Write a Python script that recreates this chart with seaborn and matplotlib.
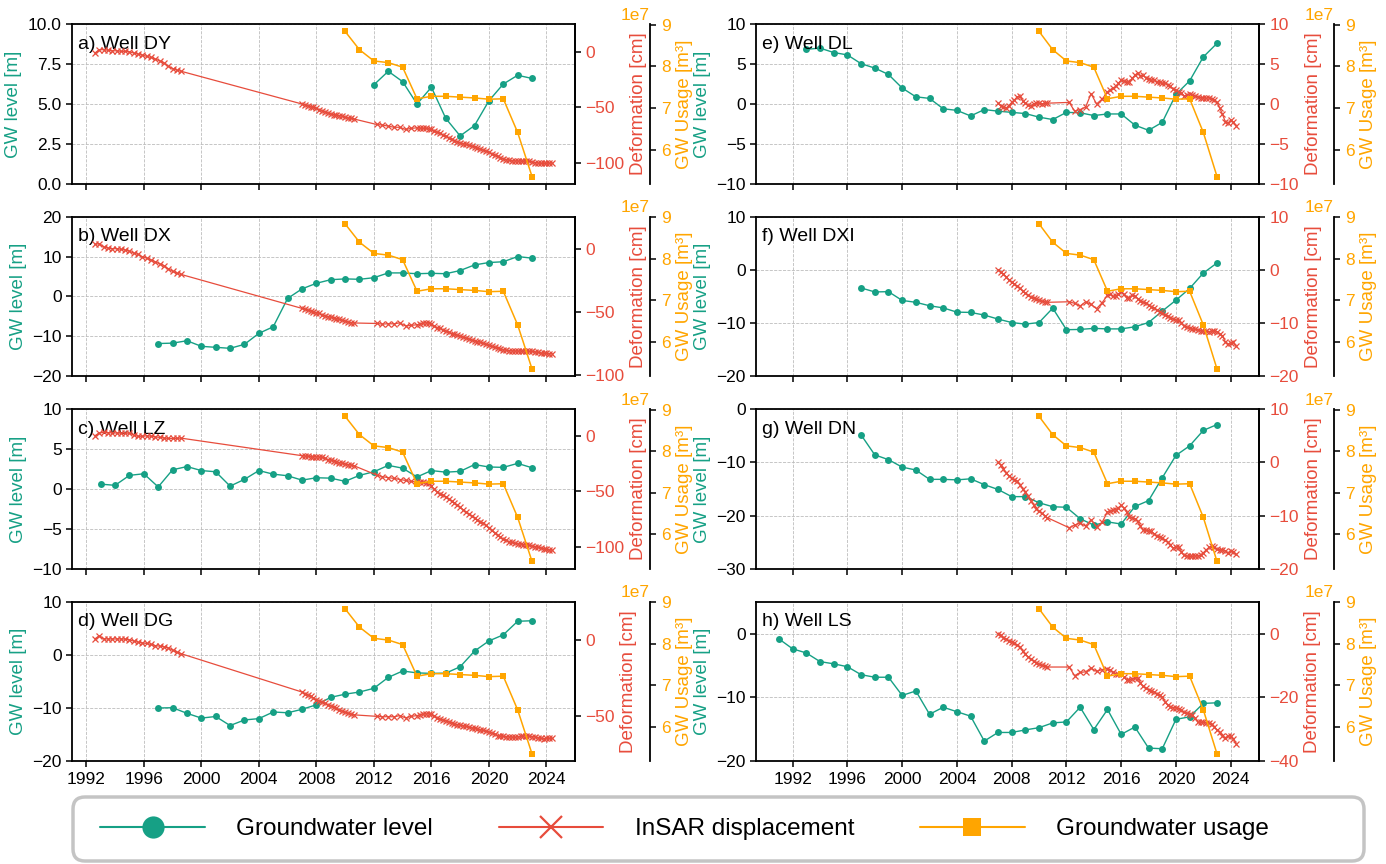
import numpy as np
import matplotlib
matplotlib.use("Agg")
import matplotlib.pyplot as plt
from matplotlib.lines import Line2D
from matplotlib.patches import FancyBboxPatch
import seaborn as sns

sns.set_theme(style="ticks")
plt.rcParams["font.family"] = ["Liberation Sans", "DejaVu Sans"]
plt.rcParams.update({
    "axes.linewidth": 1.3,
    "axes.edgecolor": "black",
    "axes.labelcolor": "black",
    "text.color": "black",
    "xtick.color": "black",
    "ytick.color": "black",
    "xtick.major.width": 1.1,
    "ytick.major.width": 1.1,
    "xtick.major.size": 4,
    "ytick.major.size": 4,
    "xtick.labelsize": 12.5,
    "ytick.labelsize": 12.5,
    "axes.labelsize": 13.5,
})

TEAL = "#16a085"
RED = "#e74c3c"
ORANGE = "#ffa500"

# ---------------------------------------------------------------- time axes
x_ticks = [1992, 1996, 2000, 2004, 2008, 2012, 2016, 2020, 2024]

# InSAR acquisition epochs (decimal years) of the four stacks
ers_t = [1992.6, 1992.9, 1993.2, 1993.5, 1993.8, 1994.1, 1994.4, 1994.7,
         1995.0, 1995.3, 1995.6, 1995.9, 1996.2, 1996.5, 1996.8, 1997.1,
         1997.4, 1997.7, 1998.0, 1998.3, 1998.6]
env_t = [2007.0, 2007.2, 2007.4, 2007.6, 2007.8, 2008.0, 2008.2, 2008.4,
         2008.6, 2008.8, 2009.0, 2009.2, 2009.4, 2009.6, 2009.8, 2010.0,
         2010.2, 2010.4, 2010.6]
alos_t = [2012.2, 2012.6, 2013.0, 2013.4, 2013.8, 2014.2, 2014.6]
s1_t = [2015.0, 2015.2, 2015.4, 2015.6, 2015.8, 2016.0, 2016.2, 2016.4,
        2016.6, 2016.8, 2017.0, 2017.2, 2017.4, 2017.6, 2017.8, 2018.0,
        2018.2, 2018.4, 2018.6, 2018.8, 2019.0, 2019.2, 2019.4, 2019.6,
        2019.8, 2020.0, 2020.2, 2020.4, 2020.6, 2020.8, 2021.0, 2021.2,
        2021.4, 2021.6, 2021.8, 2022.0, 2022.2, 2022.4, 2022.6, 2022.8,
        2023.0, 2023.2, 2023.4, 2023.6, 2023.8, 2024.0, 2024.2, 2024.4]

# ---------------------------------------------------------- groundwater use
usage_years = [2010, 2011, 2012, 2013, 2014, 2015, 2016, 2017, 2018, 2019,
               2020, 2021, 2022, 2023]
usage_m3 = [8.84e7, 8.40e7, 8.13e7, 8.09e7, 7.98e7, 7.22e7, 7.28e7, 7.28e7,
            7.26e7, 7.24e7, 7.21e7, 7.22e7, 6.41e7, 5.35e7]

# ------------------------------------------------------------- Well DY (a)
gw_years_dy = list(range(2012, 2024))
gw_dy = [6.2, 7.05, 6.4, 5.0, 6.05, 4.1, 3.0, 3.65, 5.2, 6.25, 6.8, 6.6]
ers_dy = [-1, 2, 2, 1.5, 1, 1, 0.5, 0.5, 0, -1, -2, -3, -4, -5, -6.5, -8,
          -10, -13, -15, -16.5, -17.5]
env_dy = [-47, -47.5, -48.5, -49.5, -50, -51, -52, -53, -54, -55, -56,
          -56.5, -57, -57.5, -58, -59, -59.5, -60, -60.5]
alos_dy = [-65.5, -66, -67, -68, -68, -70, -69]
s1_dy = [-68.5, -68.8, -69, -69, -69.5, -70, -71, -72.5, -73.5, -75,
         -76, -77.5, -79, -80, -81, -82, -82.7, -83.5, -84.2, -85,
         -85.8, -86.7, -87.5, -88.5, -89.5, -90.6, -91.8, -93, -94.3, -95.5,
         -96.4, -97.2, -97.8, -98.2, -98.4, -98.5, -98.5, -98.6, -98.7, -98.8,
         -99.2, -99.8, -100.2, -100.5, -100.6, -100.5, -100.3, -100.3]

# ------------------------------------------------------------- Well DX (b)
gw_years_dx = list(range(1997, 2024))
gw_dx = [-11.8, -11.7, -11.1, -12.5, -12.75, -13.0, -12.0, -9.25, -7.6, -0.5,
         1.9, 3.3, 4.2, 4.4, 4.3, 4.7, 5.9, 5.9, 5.7, 5.8, 5.7, 6.5, 7.9, 8.5,
         8.7, 10.0, 9.6]
ers_dx = [4, 4.5, 2, 1, 0.5, 0.5, 0, -0.5, -1.5, -3, -4, -6, -7, -8.5, -10,
          -11.5, -13, -15.5, -17.5, -19, -20]
env_dx = [-47, -47.5, -48.5, -49, -49.7, -50.5, -51, -52, -52.8, -53.5, -54,
          -54.7, -55.2, -55.8, -56.5, -57, -57.7, -58.3, -58.6]
alos_dx = [-59, -59.5, -59.2, -59.3, -58.5, -61, -60.5]
s1_dx = [-60, -59.5, -58.8, -58.4, -58.8, -59.5, -61, -62.3, -63, -64,
         -65, -66, -67, -67.6, -68.3, -69, -69.8, -70.5, -71.3, -72.2,
         -72.8, -73.4, -74, -74.8, -75.6, -76.5, -77.3, -78, -78.7, -79.3,
         -79.8, -80.3, -80.6, -80.8, -81, -81, -81, -80.9, -81, -81.2,
         -81.3, -81.5, -82, -82.5, -82.7, -82.8, -83, -83]

# ------------------------------------------------------------- Well LZ (c)
gw_years_lz = list(range(1993, 2024))
gw_lz = [0.6, 0.45, 1.7, 1.9, 0.25, 2.4, 2.8, 2.3, 2.15, 0.35, 1.2, 2.3, 1.85,
         1.65, 1.1, 1.4, 1.35, 0.95, 1.7, 2.15, 2.95, 2.6, 1.5, 2.3, 2.1, 2.2,
         3.05, 2.75, 2.7, 3.2, 2.65]
ers_lz = [0, 2.5, 3, 2.8, 2.5, 2.5, 2.3, 2.3, 2.3, 0.5, -0.5, -0.5, 0, -0.5,
          -1, -1.5, -2, -2.5, -2.5, -2.3, -2.2]
env_lz = [-18, -18.3, -18.6, -18.8, -19, -19, -19.2, -19.5, -20.5, -21.5, -22,
          -22.8, -23.5, -24.2, -24.8, -25.5, -26, -26.5, -27]
alos_lz = [-35.5, -37, -37.8, -38.5, -39.5, -40.3, -41.3]
s1_lz = [-41.5, -41.8, -42, -42.3, -43, -45.5, -48.5, -50.5, -52.3, -53.8,
         -55, -57, -58.8, -60.6, -62.6, -64.7, -66.7, -68.7, -70.7, -72.5,
         -74.2, -75.8, -77.4, -79, -81, -83.5, -85.5, -87.8, -90, -91.8,
         -93.2, -94.5, -95.5, -96.3, -97, -97.4, -97.8, -98.2, -98.6, -99,
         -99.5, -100, -100.7, -101.3, -102, -102.6, -103, -103.3]

# ------------------------------------------------------------- Well DG (d)
gw_years_dg = list(range(1997, 2024))
gw_dg = [-10.0, -9.95, -11.0, -11.9, -11.6, -13.3, -12.25, -12.0, -10.75,
         -10.9, -10.25, -9.4, -8.0, -7.4, -7.0, -6.3, -4.25, -3.05, -3.4,
         -3.5, -3.45, -2.25, 0.7, 2.6, 3.75, 6.3, 6.4]
ers_dg = [0.5, 2.5, 0.5, 0.4, 0.4, 0.4, 0.4, 0.3, -0.2, -1, -1.7, -2.2, -2.5,
          -3.2, -4, -4.3, -4.7, -5.5, -7, -8.3, -9.3]
env_dg = [-34.5, -35.5, -36.5, -37.3, -38.3, -39.5, -40.3, -41, -42, -42.8,
          -43.5, -44.5, -45.3, -46.2, -47, -47.8, -48.5, -49, -49.5]
alos_dg = [-50.5, -50.8, -50.7, -50.8, -50, -51.5, -50.5]
s1_dg = [-50, -49.5, -49, -48.9, -48.8, -49.2, -50, -51.5, -52.4, -52.8,
         -53.3, -54, -54.8, -55.5, -55.9, -56.3, -56.6, -57.1, -57.6, -58,
         -58.4, -58.8, -59.3, -59.8, -60.3, -60.8, -61.3, -62.3, -63.2, -63.5,
         -63.7, -63.9, -64, -64.2, -64.3, -64, -63.7, -63.4, -63.4, -63.6,
         -63.8, -64, -64.5, -65, -65.2, -65, -65, -65]

# ------------------------------------------------------------- Well DL (e)
gw_years_dl = list(range(1993, 2024))
gw_dl = [6.85, 7.0, 6.45, 6.15, 5.05, 4.5, 3.7, 2.0, 0.9, 0.7, -0.6, -0.8,
         -1.5, -0.7, -0.9, -1.05, -1.2, -1.65, -1.95, -1.05, -1.1, -1.45,
         -1.25, -1.25, -2.65, -3.3, -2.3, 1.2, 2.9, 5.9, 7.6]
env_dl = [0.1, -0.2, -0.4, -0.5, -0.2, 0.2, 0.5, 0.9, 1.0, 0.4, 0.1, -0.1,
          -0.2, 0, 0.1, 0.1, 0, 0.1, 0.1]
alos_dl = [0.2, -0.9, -0.7, -0.4, 1.3, 0.0, 0.6]
s1_dl = [1.5, 1.8, 2.0, 2.2, 2.6, 3.0, 2.9, 2.7, 2.8, 3.2,
         3.6, 3.9, 3.5, 3.6, 3.3, 3.1, 3.0, 3.0, 2.8, 2.7,
         2.6, 2.6, 2.4, 2.2, 1.9, 1.7, 1.5, 1.4, 1.0, 1.1,
         1.3, 1.1, 1.0, 0.9, 0.8, 0.8, 0.7, 0.8, 0.6, 0.5,
         0.2, -0.5, -1.3, -2.2, -2.4, -2.0, -2.3, -2.7]

# ------------------------------------------------------------ Well DXI (f)
gw_years_dxi = list(range(1997, 2024))
gw_dxi = [-3.4, -4.15, -4.1, -5.75, -6.1, -6.75, -7.15, -7.95, -8.0, -8.5,
          -9.25, -9.9, -10.2, -9.9, -7.2, -11.25, -11.2, -11.0, -11.1, -11.1,
          -10.7, -9.9, -7.75, -5.7, -3.5, -0.6, 1.3]
env_dxi = [0, -0.4, -0.8, -1.3, -1.9, -2.3, -2.7, -3.1, -3.5, -4.0, -4.4,
           -4.8, -5.1, -5.3, -5.5, -5.7, -5.9, -6.0, -6.1]
alos_dxi = [-6.0, -6.3, -6.8, -6.0, -6.5, -7.3, -6.2]
s1_dxi = [-4.8, -4.6, -5.0, -4.9, -4.5, -4.1, -4.6, -5.3, -5.2, -4.8,
          -4.9, -5.4, -5.8, -6.1, -6.3, -6.6, -7.0, -7.2, -7.5, -7.9,
          -8.1, -8.4, -8.7, -9.0, -9.2, -9.4, -9.5, -10.0, -10.5, -10.8,
          -11.0, -11.1, -11.2, -11.3, -11.4, -11.5, -11.5, -11.6, -11.5, -11.4,
          -11.6, -12.0, -12.4, -13.5, -14.0, -13.7, -13.6, -14.4]

# ------------------------------------------------------------- Well DN (g)
gw_years_dn = list(range(1997, 2024))
gw_dn = [-4.85, -8.6, -9.5, -10.9, -11.45, -13.2, -13.2, -13.3, -13.1, -14.2,
         -15.1, -16.45, -16.45, -17.6, -18.35, -18.45, -20.6, -21.8, -21.2,
         -21.6, -18.3, -17.2, -12.9, -8.7, -6.9, -4.0, -2.9]
env_dn = [0.0, -0.5, -1.2, -2.0, -2.5, -3.0, -3.3, -3.5, -4.2, -5.0, -5.6,
          -6.3, -7.2, -8.0, -8.7, -9.2, -9.6, -10.0, -10.4]
alos_dn = [-12.3, -11.8, -11.4, -12.0, -10.8, -12.1, -11.3]
s1_dn = [-9.3, -9.2, -9.0, -8.9, -8.5, -8.1, -8.6, -9.4, -10.2, -10.4,
         -10.6, -11.1, -11.9, -12.7, -12.8, -12.9, -13.0, -13.4, -13.8, -14.0,
         -14.3, -14.6, -15.0, -15.6, -16.1, -15.9, -15.9, -16.8, -17.5, -17.6,
         -17.7, -17.7, -17.6, -17.6, -17.5, -17.0, -16.5, -16.0, -15.8, -16.0,
         -16.3, -16.5, -16.4, -16.6, -17.0, -16.6, -16.8, -17.3]

# ------------------------------------------------------------- Well LS (h)
gw_years_ls = list(range(1991, 2024))
gw_ls = [-0.85, -2.4, -3.05, -4.4, -4.75, -5.2, -6.45, -6.85, -6.85, -9.7,
         -9.0, -12.65, -11.55, -12.25, -12.95, -16.85, -15.5, -15.5, -15.1,
         -14.75, -14.0, -13.85, -11.55, -15.05, -11.9, -15.8, -14.65, -17.95,
         -18.05, -13.45, -13.05, -10.95, -10.85]
env_ls = [0, -0.6, -1.3, -1.8, -2.2, -2.6, -3.0, -3.6, -4.2, -5.5, -6.5,
          -7.3, -8.0, -8.6, -9.2, -9.6, -10.0, -10.3, -10.5]
alos_ls = [-10.5, -13.2, -12.2, -12.0, -10.8, -11.9, -11.3]
s1_ls = [-11.0, -11.5, -12.2, -12.7, -12.7, -12.6, -13.5, -14.6, -14.5, -14.2,
         -14.0, -13.8, -15.4, -16.6, -17.2, -17.6, -17.9, -18.3, -18.8, -19.3,
         -20.0, -21.4, -22.4, -23.0, -23.2, -23.3, -23.5, -24.0, -24.7, -25.0,
         -25.2, -25.5, -26.5, -27.8, -27.8, -27.8, -27.9, -28.1, -28.4, -29.2,
         -30.2, -31.0, -32.0, -32.6, -32.2, -32.0, -33.2, -34.5]

# ------------------------------------------------------ panel descriptions
panels = [
    # title, gw years, gw, insar segments, gw limits, gw ticks, def limits, def ticks
    ("a) Well DY", gw_years_dy, gw_dy,
     [(ers_t, ers_dy), (env_t, env_dy), (alos_t, alos_dy), (s1_t, s1_dy)],
     (0, 10), [0, 2.5, 5, 7.5, 10], (-119, 25), [-100, -50, 0]),
    ("b) Well DX", gw_years_dx, gw_dx,
     [(ers_t, ers_dx), (env_t, env_dx), (alos_t, alos_dx), (s1_t, s1_dx)],
     (-20, 20), [-20, -10, 0, 10, 20], (-101, 26), [-100, -50, 0]),
    ("c) Well LZ", gw_years_lz, gw_lz,
     [(ers_t, ers_lz), (env_t, env_lz), (alos_t, alos_lz), (s1_t, s1_lz)],
     (-10, 10), [-10, -5, 0, 5, 10], (-120, 24), [-100, -50, 0]),
    ("d) Well DG", gw_years_dg, gw_dg,
     [(ers_t, ers_dg), (env_t, env_dg), (alos_t, alos_dg), (s1_t, s1_dg)],
     (-20, 10), [-20, -10, 0, 10], (-80, 25), [-50, 0]),
    ("e) Well DL", gw_years_dl, gw_dl,
     [(env_t, env_dl), (alos_t, alos_dl), (s1_t, s1_dl)],
     (-10, 10), [-10, -5, 0, 5, 10], (-10, 10), [-10, -5, 0, 5, 10]),
    ("f) Well DXI", gw_years_dxi, gw_dxi,
     [(env_t, env_dxi), (alos_t, alos_dxi), (s1_t, s1_dxi)],
     (-20, 10), [-20, -10, 0, 10], (-20, 10), [-20, -10, 0, 10]),
    ("g) Well DN", gw_years_dn, gw_dn,
     [(env_t, env_dn), (alos_t, alos_dn), (s1_t, s1_dn)],
     (-30, 0), [-30, -20, -10, 0], (-20, 10), [-20, -10, 0, 10]),
    ("h) Well LS", gw_years_ls, gw_ls,
     [(env_t, env_ls), (alos_t, alos_ls), (s1_t, s1_ls)],
     (-20, 5), [-20, -10, 0], (-40, 10), [-40, -20, 0]),
]

fig, axes = plt.subplots(4, 2, figsize=(13.86, 8.64), dpi=100, sharex="col")
fig.subplots_adjust(left=0.052, right=0.9084, top=0.972, bottom=0.119,
                    wspace=0.36, hspace=0.206)

for i, (title, gyears, gw, segs, gw_lim, gw_ticks, d_lim, d_ticks) in enumerate(panels):
    ax = axes[i % 4, i // 4]

    # groundwater level
    sns.lineplot(x=gyears, y=gw, ax=ax, color=TEAL, linewidth=1.0,
                 marker="o", markersize=5, markeredgecolor=TEAL,
                 markeredgewidth=0)
    ax.set_ylim(*gw_lim)
    ax.set_yticks(gw_ticks)
    ax.set_xticks(x_ticks)
    ax.grid(True, linestyle="--", linewidth=0.6, color="#bdbdbd")
    ax.set_ylabel("GW level [m]", color=TEAL)
    ax.set_xlabel("")
    ax.text(0.012, 0.875, title, transform=ax.transAxes, fontsize=14,
            ha="left", va="center")

    # InSAR displacement, all stacks joined into one time series
    t_all = np.concatenate([np.asarray(t, float) for t, _ in segs])
    d_all = np.concatenate([np.asarray(v, float) for _, v in segs])
    ax2 = ax.twinx()
    sns.lineplot(x=t_all, y=d_all, ax=ax2, color=RED, linewidth=0.9,
                 marker="x", markersize=5, markeredgecolor=RED,
                 markeredgewidth=0.9)
    ax2.set_ylim(*d_lim)
    ax2.set_yticks(d_ticks)
    ax2.tick_params(axis="y", labelcolor=RED)
    ax2.set_ylabel("Deformation [cm]", color=RED)

    # groundwater usage on an offset third axis
    ax3 = ax.twinx()
    ax3.spines["right"].set_position(("axes", 1.15))
    sns.lineplot(x=usage_years, y=usage_m3, ax=ax3, color=ORANGE,
                 linewidth=1.1, marker="s", markersize=4.5,
                 markeredgecolor=ORANGE, markeredgewidth=0)
    ax3.set_yticks([6e7, 7e7, 8e7, 9e7])
    ax3.tick_params(axis="y", labelcolor=ORANGE)
    ax3.set_ylabel("GW Usage [m³]", color=ORANGE)
    off = ax3.yaxis.get_offset_text()
    off.set_color(ORANGE)
    off.set_fontsize(12.5)
    off.set_x(1.148)
    off.set_horizontalalignment("right")

    for a in (ax2, ax3):
        for side in ("top", "bottom", "left"):
            a.spines[side].set_visible(False)

for ax in axes[-1, :]:
    ax.tick_params(axis="x", labelbottom=True)

# legend in a rounded box spanning the bottom of the figure
handles = [
    Line2D([], [], color=TEAL, linewidth=1.5, marker="o", markersize=16,
           markeredgewidth=0),
    Line2D([], [], color=RED, linewidth=1.5, marker="x", markersize=16,
           markeredgewidth=1.6),
    Line2D([], [], color=ORANGE, linewidth=1.5, marker="s", markersize=13,
           markeredgewidth=0),
]
labels = ["Groundwater level", "InSAR displacement", "Groundwater usage"]
fig.legend(handles, labels, loc="center", bbox_to_anchor=(0.494, 0.0405),
           ncol=3, frameon=False, fontsize=17.5, handlelength=4.3,
           handletextpad=1.3, columnspacing=2.7)
frame = FancyBboxPatch((73, 3), 1291, 64,
                       boxstyle="round,pad=0,rounding_size=12",
                       transform=None, facecolor="none",
                       edgecolor="#c4c4c4", linewidth=2.5)
fig.add_artist(frame)

fig.savefig("out.png", dpi=100)
